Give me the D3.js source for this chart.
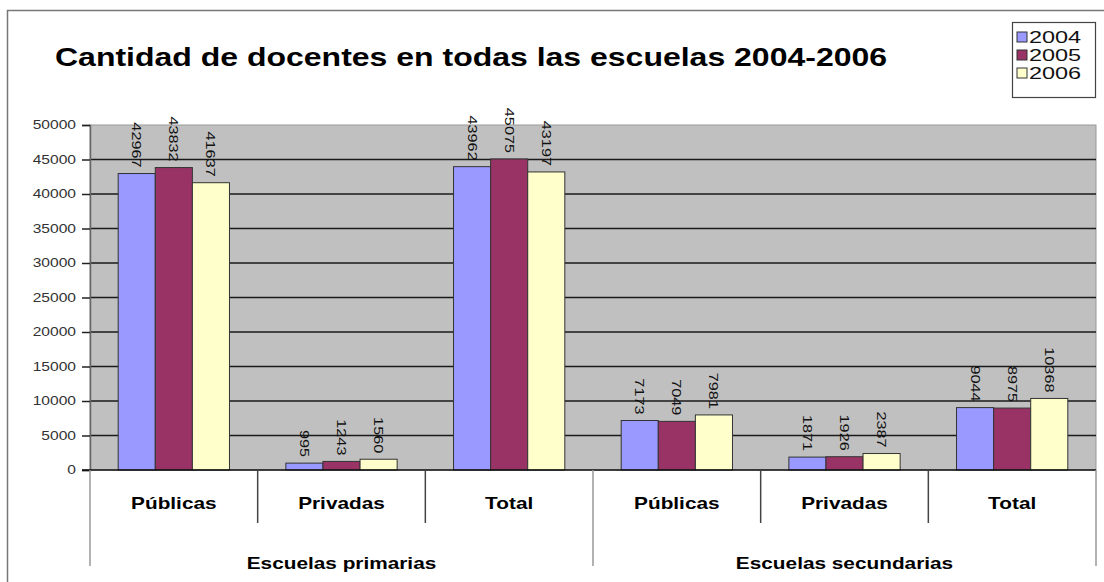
<!DOCTYPE html>
<html>
<head>
<meta charset="utf-8">
<script src="https://cdn.jsdelivr.net/npm/d3@7"></script>
<style>
  body { margin: 0; background: #fff; }
  text { font-family: "Liberation Sans", Arial, sans-serif; }
</style>
</head>
<body>
<div id="chart"></div>
<script>
// categories and series
const groups = ["Escuelas primarias", "Escuelas secundarias"];
const subCategories = ["Públicas", "Privadas", "Total"];
const years = ["2004", "2005", "2006"];
const values2004 = [42967, 995, 43962, 7173, 1871, 9044];
const values2005 = [43832, 1243, 45075, 7049, 1926, 8975];
const values2006 = [41637, 1560, 43197, 7981, 2387, 10368];
const yTicks = [0, 5000, 10000, 15000, 20000, 25000, 30000, 35000, 40000, 45000, 50000];
const colors = ["#9999ff", "#993366", "#ffffcc"];

let width = 1104, height = 582;
let margin = {left: 90, right: 8, top: 125, bottom: 112};
let sx = 1.3; // the original picture is stretched sideways

let svg = d3.select("#chart").append("svg")
    .attr("width", width)
    .attr("height", height);

// outer frame
svg.append("rect")
    .attr("x", 7.5).attr("y", 10.5)
    .attr("width", 1110).attr("height", 600)
    .attr("fill", "none")
    .attr("stroke", "#777")
    .attr("stroke-width", 1.5);

// build flat category list
let cats = [];
groups.forEach((g, gi) => subCategories.forEach((s, si) => cats.push({group: g, sub: s, key: gi + "-" + si})));

let x = d3.scaleBand()
    .domain(cats.map(d => d.key))
    .range([margin.left, width - margin.right]);

let xInner = d3.scaleBand()
    .domain(years)
    .range([0, x.bandwidth()])
    .paddingInner(0)
    .paddingOuter(0.76);

let y = d3.scaleLinear()
    .domain([0, 50000])
    .range([height - margin.bottom, margin.top]);

// plot background
svg.append("rect")
    .attr("x", margin.left).attr("y", y(50000))
    .attr("width", width - margin.right - margin.left)
    .attr("height", y(0) - y(50000))
    .attr("fill", "#c0c0c0")
    .attr("stroke", "#999")
    .attr("stroke-width", 1);

// gridlines
svg.append("g")
    .selectAll("line")
    .data(yTicks.filter(d => d > 0 && d < 50000))
    .join("line")
    .attr("x1", margin.left).attr("x2", width - margin.right)
    .attr("y1", d => y(d)).attr("y2", d => y(d))
    .attr("stroke", "#1a1a1a")
    .attr("stroke-width", 1.5);

// y axis
let yAxis = svg.append("g")
    .attr("transform", `translate(${margin.left},0)`)
    .call(d3.axisLeft(y).tickValues(yTicks).tickSize(8).tickFormat(d3.format("d")));
yAxis.select(".domain").attr("stroke", "#666").attr("stroke-width", 1.5);
yAxis.selectAll(".tick line").attr("stroke", "#222").attr("stroke-width", 1.5);
yAxis.selectAll(".tick text")
    .attr("font-size", 12)
    .attr("fill", "#333")
    .attr("x", null)
    .attr("transform", `translate(-14,0) scale(${sx},1)`)
    .attr("font-family", "Liberation Sans, Arial, sans-serif");

// bars
let series = [values2004, values2005, values2006];
let barG = svg.append("g");
series.forEach((vals, si) => {
    barG.append("g")
        .selectAll("rect")
        .data(vals)
        .join("rect")
        .attr("x", (d, i) => x(cats[i].key) + xInner(years[si]))
        .attr("y", d => y(d))
        .attr("width", xInner.bandwidth())
        .attr("height", d => y(0) - y(d))
        .attr("fill", colors[si])
        .attr("stroke", "#333")
        .attr("stroke-width", 1);

    // value labels, rotated
    barG.append("g")
        .selectAll("text")
        .data(vals)
        .join("text")
        .attr("transform", (d, i) => {
            let cx = x(cats[i].key) + xInner(years[si]) + xInner.bandwidth() / 2;
            return `translate(${cx - 4.5},${y(d) - 6}) rotate(90) scale(${sx},1)`;
        })
        .attr("text-anchor", "end")
        .attr("font-size", 12.5)
        .attr("fill", "#111")
        .text(d => d);
});

// zero line
svg.append("line")
    .attr("x1", margin.left - 8).attr("x2", width - margin.right)
    .attr("y1", y(0)).attr("y2", y(0))
    .attr("stroke", "#111")
    .attr("stroke-width", 1.5);

// category dividers below axis
let divX = cats.map(d => x(d.key)).concat([width - margin.right]);
svg.append("g")
    .selectAll("line")
    .data(divX)
    .join("line")
    .attr("x1", d => d).attr("x2", d => d)
    .attr("y1", y(0))
    .attr("y2", (d, i) => i % 3 === 0 ? 566 : 523)
    .attr("stroke", (d, i) => i % 3 === 0 ? "#999" : "#444")
    .attr("stroke-width", 1.5);

// sub-category labels
svg.append("g")
    .selectAll("text")
    .data(cats)
    .join("text")
    .attr("transform", d => `translate(${x(d.key) + x.bandwidth() / 2},509) scale(${sx},1)`)
    .attr("text-anchor", "middle")
    .attr("font-size", 16)
    .attr("font-weight", "bold")
    .text(d => d.sub);

// group labels
svg.append("g")
    .selectAll("text")
    .data(groups)
    .join("text")
    .attr("transform", (d, gi) => `translate(${x(gi + "-1") + x.bandwidth() / 2},569) scale(${sx},1)`)
    .attr("text-anchor", "middle")
    .attr("font-size", 16)
    .attr("font-weight", "bold")
    .text(d => d);

// title
svg.append("text")
    .attr("transform", `translate(55,66) scale(1.28,1)`)
    .attr("font-size", 25)
    .attr("font-weight", "bold")
    .text("Cantidad de docentes en todas las escuelas 2004-2006");

// legend
let legend = svg.append("g").attr("transform", "translate(1012,22)");
legend.append("rect")
    .attr("x", 0.5).attr("y", 0.5)
    .attr("width", 83).attr("height", 75)
    .attr("fill", "#fff")
    .attr("stroke", "#444")
    .attr("stroke-width", 1.2);
years.forEach((yr, i) => {
    legend.append("rect")
        .attr("x", 5).attr("y", 10 + i * 18)
        .attr("width", 10).attr("height", 10)
        .attr("fill", colors[i])
        .attr("stroke", "#333");
    legend.append("text")
        .attr("transform", `translate(17,${21 + i * 18}) scale(1.38,1)`)
        .attr("font-size", 17)
        .attr("fill", "#111")
        .text(yr);
});
</script>
</body>
</html>
